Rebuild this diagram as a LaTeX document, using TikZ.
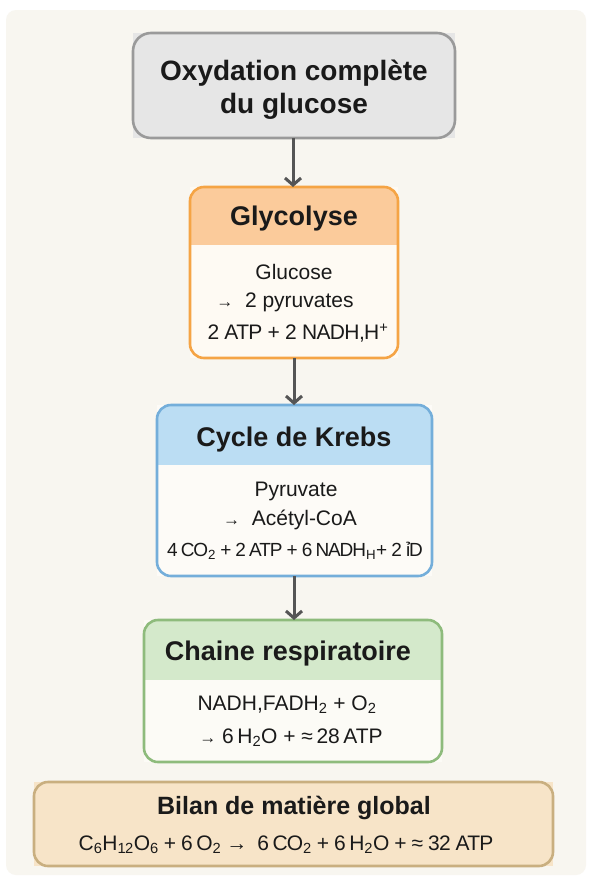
\documentclass[tikz,border=0pt]{standalone}
\usepackage{fontspec}
\setmainfont{Liberation Sans}
\usetikzlibrary{arrows.meta}
\definecolor{panel}{HTML}{F8F6F0}
\definecolor{topfill}{HTML}{E6E6E6}
\definecolor{topline}{HTML}{9A9A9A}
\definecolor{glyhead}{HTML}{FBCB9B}
\definecolor{glyline}{HTML}{F5A445}
\definecolor{glybody}{HTML}{FEFAF3}
\definecolor{krehead}{HTML}{BBDDF3}
\definecolor{kreline}{HTML}{74AEDA}
\definecolor{krebody}{HTML}{FDFBF7}
\definecolor{chahead}{HTML}{D4E9CB}
\definecolor{chaline}{HTML}{8EBB7C}
\definecolor{chabody}{HTML}{FCFBF6}
\definecolor{bilfill}{HTML}{F7E4C8}
\definecolor{billine}{HTML}{C9AF80}
\definecolor{arrcol}{HTML}{555555}
\definecolor{ink}{HTML}{1A1A1A}
\tikzset{
  stagebox/.style={rectangle, inner sep=0pt, outer sep=0pt},
  border/.style={line width=2.6pt, rounded corners=14pt},
  headtxt/.style={font=\fontsize{27}{30}\selectfont\bfseries, text=ink, inner sep=0pt},
  bodytxt/.style={font=\fontsize{21}{30}\selectfont, text=ink, inner sep=0pt, align=center},
  arr/.style={draw=arrcol, line width=3pt, -{Straight Barb[length=7pt, width=16pt, line width=3pt]}},
}
\newcommand\sbs[1]{\textsubscript{#1}}
\newcommand\smarr{{\fontsize{17}{18}\selectfont →}}
\begin{document}
\begin{tikzpicture}[x=1pt, y=-1pt]
\useasboundingbox (0,0) rectangle (592,892);
\fill[white] (0,0) rectangle (592,892);
\fill[panel, rounded corners=10pt] (6,10) rectangle (586,875);

% top box
\node[stagebox, minimum width=322pt, minimum height=105pt, fill=topfill] (top) at (294,85.5) {};
\draw[topline, border, rounded corners=18pt] (top.north west) rectangle (top.south east);
\node[font=\fontsize{28}{33}\selectfont\bfseries, text=ink, align=center, inner sep=0pt] (toptxt) at (294,90) {Oxydation complète\\du glucose};

% glycolyse
\node[stagebox, minimum width=208pt, minimum height=171pt, fill=glybody] (gly) at (294,272.5) {};
\begin{scope}
\clip[rounded corners=14pt] (gly.north west) rectangle (gly.south east);
\fill[glyhead] (gly.north west) rectangle ([yshift=-58pt]gly.north east);
\end{scope}
\draw[glyline, border] (gly.north west) rectangle (gly.south east);
\node[headtxt] (glyh) at (294,219) {Glycolyse};
\node[bodytxt] (glyb1) at (294,272) {Glucose};
\node[bodytxt] (glyb2) at (285,302) {\smarr\ \ 2 pyruvates};
\node[bodytxt] (glyb3) at (298,333) {\addfontfeature{LetterSpace=-3}2 ATP + 2 NADH,H\textsuperscript{+}};

% krebs
\node[stagebox, minimum width=275pt, minimum height=171pt, fill=krebody] (kre) at (294.5,490.5) {};
\begin{scope}
\clip[rounded corners=14pt] (kre.north west) rectangle (kre.south east);
\fill[krehead] (kre.north west) rectangle ([yshift=-60pt]kre.north east);
\end{scope}
\draw[kreline, border] (kre.north west) rectangle (kre.south east);
\node[headtxt] (kreh) at (294,440) {Cycle de Krebs};
\node[bodytxt] (kreb1) at (296,491) {Pyruvate};
\node[bodytxt] (kreb2) at (290,520) {\smarr\ \ Acétyl-CoA};
\node[bodytxt, font=\fontsize{19}{30}\selectfont] (kreb3) at (295,551) {\addfontfeature{LetterSpace=-6}4\,CO\sbs{2} + 2\,ATP + 6\,NADH\sbs{H}+ 2 ỉD};

% chaine
\node[stagebox, minimum width=298pt, minimum height=142pt, fill=chabody] (cha) at (293,691) {};
\begin{scope}
\clip[rounded corners=14pt] (cha.north west) rectangle (cha.south east);
\fill[chahead] (cha.north west) rectangle ([yshift=-60pt]cha.north east);
\end{scope}
\draw[chaline, border] (cha.north west) rectangle (cha.south east);
\node[headtxt] (chah) at (288,654) {Chaine respiratoire};
\node[bodytxt] (chab1) at (287,705) {NADH,FADH\sbs{2} + O\sbs{2}};
\node[bodytxt] (chab2) at (291,738) {\smarr\ 6\,H\sbs{2}O + ≈\,28\,ATP};

% bilan
\node[stagebox, minimum width=519pt, minimum height=84pt, fill=bilfill] (bil) at (293.5,824) {};
\draw[billine, border] (bil.north west) rectangle (bil.south east);
\node[headtxt, font=\fontsize{25}{30}\selectfont\bfseries] (bilh) at (294,808) {Bilan de matière global};
\node[bodytxt] (bilb) at (286,845) {\addfontfeature{LetterSpace=-4}C\sbs{6}H\sbs{12}O\sbs{6} + 6\,O\sbs{2} → \ 6\,CO\sbs{2} + 6\,H\sbs{2}O + ≈ 32 ATP};

% arrows
\draw[arr] ([xshift=-1pt]top.south) -- ([xshift=-1pt]gly.north);
\draw[arr] (gly.south) -- (gly.south |- kre.north);
\draw[arr] (gly.south |- kre.south) -- (gly.south |- cha.north);
\end{tikzpicture}
\end{document}
